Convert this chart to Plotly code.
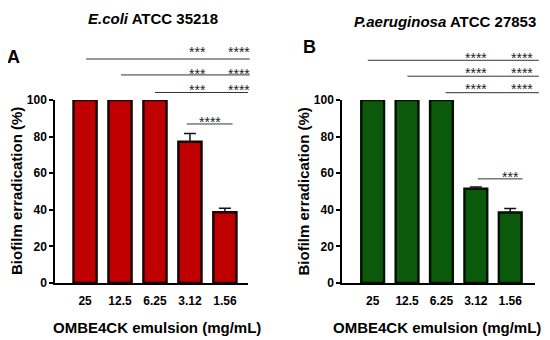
import plotly.graph_objects as go
from plotly.subplots import make_subplots

categories = ["25", "12.5", "6.25", "3.12", "1.56"]
ecoli_mean = [100, 100, 100, 77.2, 38.6]
ecoli_err = [0, 0, 0, 4.5, 2.2]
pa_mean = [100, 100, 100, 51.5, 38.5]
pa_err = [0, 0, 0, 1.0, 2.2]

ecoli_title = "<b><i>E.coli</i> ATCC 35218</b>"
pa_title = "<b><i>P.aeruginosa</i> ATCC 27853</b>"
x_title = "OMBE4CK emulsion (mg/mL)"
y_title = "Biofilm erradication (%)"
y_ticks = [0, 20, 40, 60, 80, 100]

# significance brackets: (start category index, labels for 3.12 and 1.56)
ecoli_sig_top = [(0, "***", "****"), (1, "***", "****"), (2, "***", "****")]
ecoli_sig_pair = "****"
pa_sig_top = [(0, "****", "****"), (1, "****", "****"), (2, "****", "****")]
pa_sig_pair = "***"

FONT = "Liberation Sans, Arial, sans-serif"
OFF = 8  # page body margin
W, H = 550 - OFF, 340 - OFF
ML, MR, MT, MB = 55 - OFF, 15, 100 - OFF, 57
domA = [0.0, 0.402]
domB = [0.598, 1.0]
rangeA = [-0.86, 4.66]
rangeB = [-0.89, 4.72]

fig = make_subplots(rows=1, cols=2)

def add_bars(mean, err, fill, edge, col):
    fig.add_trace(go.Bar(
        x=categories, y=mean, width=0.66,
        marker=dict(color=fill, line=dict(color=edge, width=2.5)),
        error_y=dict(type="data", symmetric=False, array=err, arrayminus=[0]*len(err),
                     color="#111", thickness=1.5, width=6, visible=True),
        cliponaxis=False, showlegend=False), row=1, col=col)

add_bars(ecoli_mean, ecoli_err, "#C00000", "#1a0000", 1)
add_bars(pa_mean, pa_err, "#0B5A0B", "#001000", 2)

axis_common = dict(showline=True, linecolor="black", linewidth=1.5, zeroline=False,
                   showgrid=False, tickfont=dict(family=FONT, size=12, color="black"))
fig.update_xaxes(**axis_common, ticks="", type="category", ticklabelstandoff=6)
fig.update_yaxes(**axis_common, ticks="outside", ticklen=4, tickwidth=1.5,
                 tickcolor="black", tickvals=y_ticks, range=[0, 100],
                 ticktext=["<b>%d</b>" % v for v in y_ticks])
fig.update_xaxes(domain=domA, range=rangeA, row=1, col=1,
                 tickvals=categories, ticktext=["<b>%s</b>" % c for c in categories])
fig.update_xaxes(domain=domB, range=rangeB, row=1, col=2,
                 tickvals=categories, ticktext=["<b>%s</b>" % c for c in categories])

def cx(c, dom, rng):
    return dom[0] + (c - rng[0]) / (rng[1] - rng[0]) * (dom[1] - dom[0])

line_style = dict(color="#333", width=1)
star_font = dict(family=FONT, size=14, color="#222")

def brackets(sig_top, pair_label, dom, rng, xref, yref, ys, star_ys, ends, star_x, pair):
    for (i, (start, l1, l2)) in enumerate(sig_top):
        fig.add_shape(type="line", xref="paper", yref="paper",
                      x0=cx(start + ends[i][0], dom, rng), x1=cx(ends[i][1], dom, rng),
                      y0=ys[i], y1=ys[i], line=line_style)
        for lab, sx in zip((l1, l2), star_x):
            fig.add_annotation(text=lab, xref=xref, yref="paper", x=sx, y=star_ys[i],
                               showarrow=False, font=star_font,
                               xanchor="center", yanchor="middle")
    (px0, px1, py_, psx, psy) = pair
    fig.add_shape(type="line", xref=xref, yref=yref, x0=px0, x1=px1, y0=py_, y1=py_, line=line_style)
    fig.add_annotation(text=pair_label, xref=xref, yref=yref, x=psx, y=psy, showarrow=False,
                       font=star_font, xanchor="center", yanchor="middle")

brackets(ecoli_sig_top, ecoli_sig_pair, domA, rangeA, "x", "y",
         ys=[1.224, 1.137, 1.041], star_ys=[1.265, 1.143, 1.052],
         ends=[(0.03, 4.71), (0.03, 4.71), (0.0, 4.66)], star_x=[3.21, 4.41],
         pair=(2.91, 4.22, 86.9, 3.56, 88.0))
brackets(pa_sig_top, pa_sig_pair, domB, rangeB, "x2", "y2",
         ys=[1.217, 1.13, 1.04], star_ys=[1.23, 1.146, 1.06],
         ends=[(-0.14, 4.83), (0.01, 4.83), (0.12, 4.83)], star_x=[2.99, 4.35],
         pair=(3.06, 4.36, 56.9, 4.02, 58.0))

def ann(text, x, y, size, **kw):
    opts = dict(xanchor="center", yanchor="middle")
    opts.update(kw)
    fig.add_annotation(text=text, xref="paper", yref="paper", x=x, y=y, showarrow=False,
                       font=dict(family=FONT, size=size, color="black"), **opts)

pw = 480
ph = 183
def px(xp):
    return (xp - 55) / pw
def py(yp):
    return (283 - yp) / ph

ann(ecoli_title, px(153), py(8), 15, yanchor="top")
ann(pa_title, px(445), py(21), 15)
ann("<b>A</b>", px(13), py(57), 18)
ann("<b>B</b>", px(309), py(47), 18)
ann("<b>" + y_title + "</b>", px(16), py(191), 15, textangle=-90)
ann("<b>" + y_title + "</b>", px(302.5), py(192), 15, textangle=-90)
ann("<b>" + x_title + "</b>", px(157), py(327), 15)
ann("<b>" + x_title + "</b>", px(437), py(327), 15)

fig.update_layout(width=W, height=H, margin=dict(l=ML, r=MR, t=MT, b=MB),
                  plot_bgcolor="white", paper_bgcolor="white",
                  font=dict(family=FONT), bargap=0.3)

fig.write_html("out.html")
